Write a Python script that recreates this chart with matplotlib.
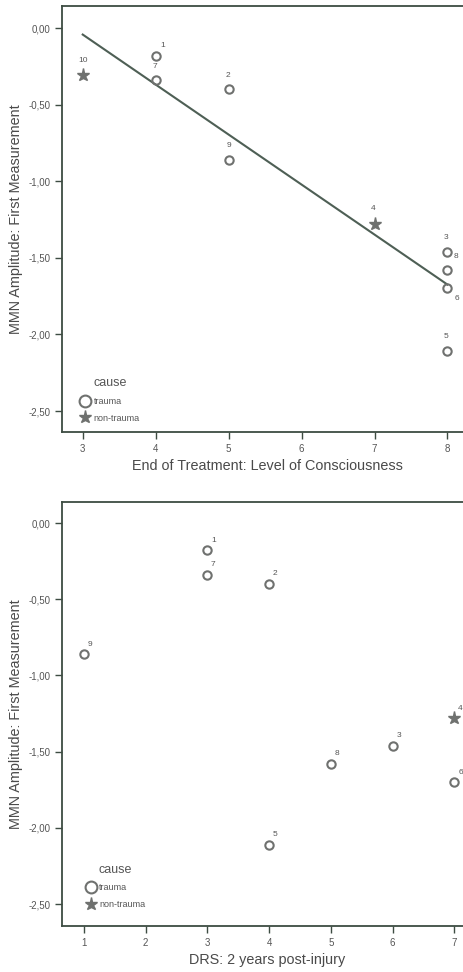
import numpy as np
import matplotlib.pyplot as plt
from matplotlib.lines import Line2D

# casos (1..10), causa e valores
case_id = [1, 2, 3, 4, 5, 6, 7, 8, 9, 10]
cause = ["trauma", "trauma", "trauma", "non-trauma", "trauma",
         "trauma", "trauma", "trauma", "trauma", "non-trauma"]
mmn_amp = [-0.18, -0.40, -1.46, -1.28, -2.11, -1.70, -0.34, -1.58, -0.86, -0.31]
loc_end = [4, 5, 8, 7, 8, 8, 4, 8, 5, 3]
drs_2y = [3, 4, 6, 7, 4, 7, 3, 5, 1, None]  # caso 10 sem DRS

# deslocamento dos rótulos (pixels) no painel de cima
top_offsets = {1: (7, 10), 2: (-1, 14), 3: (-1, 14), 4: (-1, 16), 5: (-1, 15),
               6: (9, -10), 7: (-1, 14), 8: (8, 14), 9: (0, 14), 10: (0, 15)}

y_ticks = [0.0, -0.5, -1.0, -1.5, -2.0, -2.5]

MARK = "#6f716f"
LINE = "#4e5f55"
SPINE = "#3d4c42"
TXT = "#4a4a4a"

plt.rcParams['font.family'] = ['Liberation Sans', 'DejaVu Sans']

fig = plt.figure(figsize=(4.64, 9.72), dpi=100)
ax1 = fig.add_axes([62/464, 1-432/972, 411/464, 426/972])
ax2 = fig.add_axes([62/464, 1-926/972, 411/464, 424/972])


def style(ax):
    for s in ax.spines.values():
        s.set_color(SPINE)
        s.set_linewidth(1.3)
    ax.tick_params(direction="out", length=5, width=1, color=SPINE,
                   labelsize=7, labelcolor="#555555")
    ax.set_yticks(y_ticks)
    ax.set_yticklabels([f"{v:.2f}".replace(".", ",") for v in y_ticks])
    ax.set_ylabel("MMN Amplitude: First Measurement", fontsize=10.4, color=TXT, labelpad=4)


def scatter(ax, xs, ys, ids, causes, offsets):
    for x, y, i, c in zip(xs, ys, ids, causes):
        if x is None:
            continue
        if c == "trauma":
            ax.plot(x, y, "o", ms=6, mfc="none", mec=MARK, mew=1.5, zorder=3)
        else:
            ax.plot(x, y, "*", ms=9.5, color=MARK, mec=MARK, zorder=3)
        ax.annotate(str(i), (x, y), xytext=offsets(i), textcoords="offset pixels",
                    ha="center", va="center", fontsize=6, color="#555555")


def legend(ax, anchor):
    h = [Line2D([], [], ls="none", marker="o", ms=8.5, mfc="none", mec=MARK, mew=1.5),
         Line2D([], [], ls="none", marker="*", ms=9.5, color=MARK)]
    lg = ax.legend(h, ["trauma", "non-trauma"], title="cause", loc="lower left",
                   bbox_to_anchor=anchor, frameon=False, fontsize=6.5,
                   handletextpad=0.35, handlelength=1.1, labelspacing=0.85,
                   borderpad=0.0, borderaxespad=0.0)
    lg.get_title().set_fontsize(9)
    lg.get_title().set_color("#555555")
    for t in lg.get_texts():
        t.set_color("#555555")


# painel superior
style(ax1)
scatter(ax1, loc_end, mmn_amp, case_id, cause, lambda i: top_offsets[i])
coef = np.polyfit(loc_end, mmn_amp, 1)
xl = np.array([min(loc_end), max(loc_end)])
ax1.plot(xl, np.polyval(coef, xl), color=LINE, lw=1.5, zorder=2)
ax1.set_xlim(2.716, 8.35)
ax1.set_ylim(-2.637, 0.1436)
ax1.set_xticks([3, 4, 5, 6, 7, 8])
ax1.set_xlabel("End of Treatment: Level of Consciousness", fontsize=10.4, color=TXT, labelpad=4)
legend(ax1, (0.045, 0.022))

# painel inferior
style(ax2)
scatter(ax2, drs_2y, mmn_amp, case_id, cause, lambda i: (6, 10))
ax2.set_xlim(0.648, 7.3)
ax2.set_ylim(-2.644, 0.138)
ax2.set_xticks([1, 2, 3, 4, 5, 6, 7])
ax2.set_xlabel("DRS: 2 years post-injury", fontsize=10.4, color=TXT, labelpad=4)
legend(ax2, (0.058, 0.04))

fig.savefig("out.png", dpi=100, facecolor="white")
